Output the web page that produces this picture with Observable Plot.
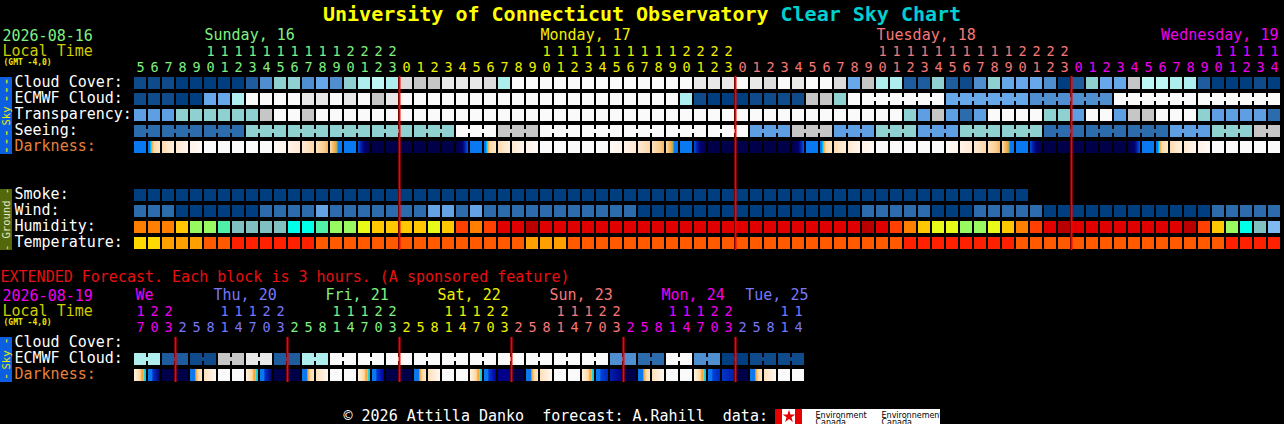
<!DOCTYPE html>
<html>
<head>
<meta charset="utf-8">
<script src="https://cdn.jsdelivr.net/npm/d3@7"></script>
<script src="https://cdn.jsdelivr.net/npm/@observablehq/plot@0.6"></script>
<style>
html,body{margin:0;padding:0;background:#000;overflow:hidden;width:1284px;height:424px}
svg{display:block}
</style>
</head>
<body>
<div id="chart"></div>
<script>
// ====================== DATA ======================
const mainDayLabels = ["Sunday, 16", "Monday, 17", "Tuesday, 18", "Wednesday, 19"];
const mainDayHours = [d3.range(5, 24), d3.range(0, 24), d3.range(0, 24), d3.range(0, 15)];

const extDayLabels = ["We", "Thu, 20", "Fri, 21", "Sat, 22", "Sun, 23", "Mon, 24", "Tue, 25"];
const extDayHours = [
  [17, 20, 23],
  [2, 5, 8, 11, 14, 17, 20, 23],
  [2, 5, 8, 11, 14, 17, 20, 23],
  [2, 5, 8, 11, 14, 17, 20, 23],
  [2, 5, 8, 11, 14, 17, 20, 23],
  [2, 5, 8, 11, 14, 17, 20, 23],
  [2, 5, 8, 11, 14]
];

// one character per hourly block (codes -> colours in the palettes below)
const cloudCover = ["BBBAAAAACE","GGEFEGHLHM","IIJJJMHKKK","KKKKKKKKKK","JJJKJMKJKK",
                    "MFIHHCCGCB","EGFFFEACGF","FILLHHCAAA","BA"].join("");
const ecmwfCloud = ["BBBAAFFHKK","KKJJKJKIJK","KKKKKKKKKK","KKKKKKKKKH","BAAABBBBII",
                    "GKKKKKKKFF","FFFFEEEEEE","KKKKKKKKKK","KK"].join("");
const ecmwfMergedBlocks = [[52, 57], [58, 63], [64, 69], [70, 75], [76, 81]];
const transparency = ["2223333334","5545555555","5555555555","5555555555","5555555555",
                      "5555532421","2555533255","2445553222","21"].join("");
// seeing is given in 3-hour blocks
const seeingBlocks = "1113333354555552423233111234";
const darkness = ["br123ddddd4567sbknn",
                  "nnnnwbr123ddddd4567sbknn",
                  "nnnnwbr123ddddd4567sbknn",
                  "nnnnwbr123ddddd"].join("");
const smoke = "0000000000000000000000000000000000000000000000000000000000000000";
const wind = ["1110000001","1112111111","1221211111","1111110000","0000000000",
              "0011111000","1111100000","0000000111","11"].join("");
const humidity = ["OOOAggmbbb","bccmggyAAA","AyARORrrDr","rrrrrrrrrr","rrrrrrrrrr",
                  "rrDrROAyyg","gyAORrDrrr","rrrrrDRAgc","ba"].join("");
const temperature = ["YYoooppqqq","qqqppppppp","ppppppppoo","oppppppppp","pppppppppp",
                     "pppppqqqqq","qqqppppppp","ppppppppqq","qq"].join("");

// extended forecast (3-hour blocks)
const extEcmwfPairs = "HCBIJCHKKKKKKKKKKEDKEABB";
const extDarkness = ["PEnnRMdd","PEnnRMdd","PFnnRMdd","PFDnRMdd","PGHnRMdd","PGInRMdd"].join("");

const mainMidnights = [19, 43, 67];
const extMidnights = [3, 11, 19, 27, 35, 43];

// ====================== STYLES ======================
const PAL_CLOUD = {A:"#003f7f",B:"#0f4b8b",C:"#1f5c9e",D:"#2c6cac",E:"#4f8fcf",F:"#66a8ea",
  G:"#8fd1d1",H:"#aeeeee",L:"#bef6f6",I:"#c6c6c6",M:"#dcdcdc",J:"#e8e8e8",K:"#fafafa"};
const PAL_SKY6 = {"0":"#003f7f","1":"#2c6cac","2":"#5e9ee2","3":"#8fd1d1","4":"#c6c6c6","5":"#fafafa"};
const PAL_SMOKE = {"0":"#003f7f"};
const PAL_WIND = {"0":"#003f7f","1":"#2c6cac","2":"#63a3e3"};
const PAL_HUMID = {a:"#80b8f0",b:"#80c0c0",c:"#00ffe8",m:"#50f0a8",g:"#98fa60",y:"#e8fa18",
  A:"#ffc800",O:"#ff8000",R:"#ff4000",r:"#e00000",D:"#b80000"};
const PAL_TEMP = {Y:"#ffd800",o:"#ffa000",p:"#ff5a00",q:"#ff2000"};
const DARK_SOLID = {n:"#00004a", b:"#0a78f0", d:"#fafafa", D:"#000088"};
const DARK_GRAD = {
  w:[[0,"#000048"],[0.55,"#000070"],[0.85,"#0034c8"],[1,"#0060e8"]],
  r:[[0,"#0a78f0"],[0.15,"#0a78f0"],[0.22,"#00c8ff"],[0.3,"#f0a030"],[0.5,"#fcd8a4"],[1,"#fde8cc"]],
  "1":[[0,"#fcdcb0"],[1,"#fff0e0"]],
  "2":[[0,"#fee8d0"],[1,"#fff6ee"]],
  "3":[[0,"#fff2e6"],[1,"#fffaf6"]],
  "4":[[0,"#fffaf6"],[1,"#fff4ea"]],
  "5":[[0,"#fff4ea"],[1,"#fee8d2"]],
  "6":[[0,"#fee8d2"],[1,"#fcd8ac"]],
  "7":[[0,"#fde0bc"],[0.7,"#fbcc8c"],[1,"#f6b45c"]],
  s:[[0,"#fbdcb0"],[0.3,"#f6b860"],[0.52,"#f0a020"],[0.6,"#00c8ff"],[0.7,"#0a78f0"],[1,"#0a78f0"]],
  k:[[0,"#0050e0"],[0.15,"#0030c0"],[0.5,"#000078"],[1,"#00004c"]],
  P:[[0,"#fff2e2"],[0.5,"#fcd8a4"],[0.72,"#f0a030"],[0.84,"#f8c868"],[0.88,"#00d8f0"],[1,"#00c0f0"]],
  E:[[0,"#0a78f0"],[0.3,"#0a78f0"],[0.42,"#0030c8"],[1,"#000060"]],
  F:[[0,"#0a78f0"],[0.3,"#0a78f0"],[0.42,"#0034d0"],[1,"#0000a0"]],
  G:[[0,"#0a78f0"],[0.3,"#0a78f0"],[0.42,"#0040d8"],[1,"#0028b8"]],
  H:[[0,"#0020b0"],[1,"#000080"]],
  I:[[0,"#0034c8"],[1,"#0020a8"]],
  R:[[0,"#0a78f0"],[0.38,"#0a78f0"],[0.48,"#f0a030"],[0.7,"#fcd8a4"],[1,"#fde8cc"]],
  M:[[0,"#fde0bc"],[1,"#fff8f0"]]
};
const darkFill = ch => DARK_SOLID[ch] || `url(#dk-${ch})`;

const mainDayColors = ["#80f080", "#f0f000", "#f87878", "#f000f0"];
const extDayColors = ["#f000f0", "#7878f8", "#80f080", "#f0f000", "#f87878", "#f000f0", "#7878f8"];

// ====================== LAYOUT ======================
const ROW = {cloud:77, ecmwf:93, transp:109, seeing:125, dark:141,
             smoke:189, wind:205, humid:221, temp:237,
             xcloud:337, xecmwf:353, xdark:369};
const CELL_H = 12;
const FONT = 15, DIGIT_FONT = 13.5, DIGIT_STEP = 15.7;
const HEAD = {day: 39.8, tens: 55.8, units: 71.5, xday: 299.8, xtens: 315.8, xunits: 331.5};
const mainDayLabelPos = [{col:5, anchor:"start", dx:-6}, {col:29, anchor:"start", dx:-6},
                         {col:53, anchor:"start", dx:-6}, {col:81, anchor:"end", dx:4}];
const extDayLabelPos = [{col:0, anchor:"start", dx:-5}, {col:6, anchor:"start", dx:-11},
  {col:14, anchor:"start", dx:-11}, {col:22, anchor:"start", dx:-11}, {col:30, anchor:"start", dx:-11},
  {col:38, anchor:"start", dx:-11}, {col:47, anchor:"end", dx:10}];

// ====================== BUILD TABLES ======================
const mainCols = mainDayHours.flatMap((hs, di) => hs.map(h => ({h, color: mainDayColors[di]})))
  .map((d, i) => ({...d, col: i}));
const extCols = extDayHours.flatMap((hs, di) => hs.map(h => ({h, color: extDayColors[di]})))
  .map((d, i) => ({...d, col: i}));

const cells = [];
const connectors = [];
function addRow(str, pal, top) {
  [...str].forEach((ch, i) => cells.push({col: i, y1: top, y2: top + CELL_H, fill: pal(ch)}));
}
function addConnectors(blocks, str, pal, top) {
  for (const [a, b] of blocks) for (let c = a; c < b; c++)
    connectors.push({col: c, y1: top + 4, y2: top + 8, fill: pal(str[c])});
}
addRow(cloudCover, ch => PAL_CLOUD[ch], ROW.cloud);
addRow(ecmwfCloud, ch => PAL_CLOUD[ch], ROW.ecmwf);
addConnectors(ecmwfMergedBlocks, ecmwfCloud, ch => PAL_CLOUD[ch], ROW.ecmwf);
addRow(transparency, ch => PAL_SKY6[ch], ROW.transp);
// seeing: expand 3-hour blocks to hourly columns (block k covers columns 3k-1 .. 3k+1)
const seeingCols = [];
const seeingBlockRanges = [];
[...seeingBlocks].forEach((ch, k) => {
  const a = Math.max(0, 3 * k - 1), b = Math.min(81, 3 * k + 1);
  for (let c = a; c <= b; c++) seeingCols[c] = ch;
  seeingBlockRanges.push([a, b]);
});
addRow(seeingCols.join(""), ch => PAL_SKY6[ch], ROW.seeing);
addConnectors(seeingBlockRanges, seeingCols.join(""), ch => PAL_SKY6[ch], ROW.seeing);
addRow(darkness, darkFill, ROW.dark);
addRow(smoke, ch => PAL_SMOKE[ch], ROW.smoke);
addRow(wind, ch => PAL_WIND[ch], ROW.wind);
addRow(humidity, ch => PAL_HUMID[ch], ROW.humid);
addRow(temperature, ch => PAL_TEMP[ch], ROW.temp);
// extended
const extEcmwf = [...extEcmwfPairs].flatMap(ch => [ch, ch]).join("");
addRow(extEcmwf, ch => PAL_CLOUD[ch], ROW.xecmwf);
addConnectors(d3.range(extEcmwfPairs.length).map(p => [2 * p, 2 * p + 1]), extEcmwf, ch => PAL_CLOUD[ch], ROW.xecmwf);
addRow(extDarkness, darkFill, ROW.xdark);

// ====================== MARKS ======================
const NS = "http://www.w3.org/2000/svg";
function gradientDefs() {
  const defs = document.createElementNS(NS, "defs");
  for (const [k, stops] of Object.entries(DARK_GRAD)) {
    const g = document.createElementNS(NS, "linearGradient");
    g.setAttribute("id", "dk-" + k);
    g.setAttribute("x1", "0"); g.setAttribute("x2", "1");
    g.setAttribute("y1", "0"); g.setAttribute("y2", "0");
    for (const [o, c] of stops) {
      const s = document.createElementNS(NS, "stop");
      s.setAttribute("offset", o); s.setAttribute("stop-color", c);
      g.appendChild(s);
    }
    defs.appendChild(g);
  }
  return defs;
}

const textBase = {lineAnchor: "bottom", fontSize: FONT};
const digitBase = {lineAnchor: "bottom", fontSize: DIGIT_FONT, x: "col", fill: "color"};
const freeText = (items, dx, extra = {}) => Plot.text(items, {
  ...textBase, frameAnchor: "left", textAnchor: "start", dx,
  y: "y", text: "text", fill: "fill", ...extra
});

const rowLabels = [
  {text:"Cloud Cover:", y:ROW.cloud + 9.7, fill:"#ffffff"},
  {text:"ECMWF Cloud:", y:ROW.ecmwf + 9.7, fill:"#ffffff"},
  {text:"Transparency:", y:ROW.transp + 9.7, fill:"#ffffff"},
  {text:"Seeing:", y:ROW.seeing + 9.7, fill:"#ffffff"},
  {text:"Darkness:", y:ROW.dark + 9.7, fill:"#e8803c"},
  {text:"Smoke:", y:ROW.smoke + 9.7, fill:"#ffffff"},
  {text:"Wind:", y:ROW.wind + 9.7, fill:"#ffffff"},
  {text:"Humidity:", y:ROW.humid + 9.7, fill:"#ffffff"},
  {text:"Temperature:", y:ROW.temp + 9.7, fill:"#ffffff"},
  {text:"Cloud Cover:", y:ROW.xcloud + 9.7, fill:"#ffffff"},
  {text:"ECMWF Cloud:", y:ROW.xecmwf + 9.7, fill:"#ffffff"},
  {text:"Darkness:", y:ROW.xdark + 9.7, fill:"#e8803c"}
];
const leftHeads = [
  {text:"2026-08-16", y:40, fill:mainDayColors[0]},
  {text:"Local Time", y:55.7, fill:"#cccc00"},
  {text:"2026-08-19", y:300, fill:extDayColors[0]},
  {text:"Local Time", y:315.7, fill:"#cccc00"}
];
const gmtHeads = [{text:"(GMT -4,0)", y:64.5, fill:"#e8e800"}, {text:"(GMT -4,0)", y:324.3, fill:"#e8e800"}];

const marks = [
  gradientDefs,
  Plot.barY(cells, {x: "col", y1: "y1", y2: "y2", fill: "fill"}),
  Plot.barY(connectors, {x: "col", y1: "y1", y2: "y2", fill: "fill", insetRight: -2}),
  Plot.ruleX(mainMidnights, {x: d => d, y1: 76, y2: 250, stroke: "#ff0000", strokeWidth: 2, dx: -7}),
  Plot.ruleX(extMidnights, {x: d => d, y1: 337, y2: 382, stroke: "#ff0000", strokeWidth: 2, dx: -7}),
  // title
  Plot.text(["University of Connecticut Observatory"], {text: d => d, y: 20, frameAnchor: "left", textAnchor: "start",
    dx: 322.5, fill: "#ffff00", fontWeight: "bold", fontSize: 20, lineAnchor: "bottom"}),
  Plot.text(["Clear Sky Chart"], {text: d => d, y: 20, frameAnchor: "left", textAnchor: "start",
    dx: 322.5 + 38 * 0.602 * 20, fill: "#00d0d0", fontWeight: "bold", fontSize: 20, lineAnchor: "bottom"}),
  // left headers & row labels
  freeText(leftHeads, 2),
  freeText(gmtHeads, 3, {fontSize: 8, fontWeight: "bold"}),
  freeText(rowLabels, 14),
  freeText([{text:"EXTENDED Forecast. Each block is 3 hours. (A sponsored feature)", y:281, fill:"#e81010"}], 0),
  // hour ticks: tens digit row and units digit row
  Plot.text(mainCols.filter(d => d.h >= 10), {...digitBase, y: HEAD.tens, text: d => String(Math.floor(d.h / 10))}),
  Plot.text(mainCols, {...digitBase, y: HEAD.units, text: d => String(d.h % 10)}),
  Plot.text(extCols.filter(d => d.h >= 10), {...digitBase, y: HEAD.xtens, text: d => String(Math.floor(d.h / 10))}),
  Plot.text(extCols, {...digitBase, y: HEAD.xunits, text: d => String(d.h % 10)}),
  // day labels
  ...mainDayLabels.map((lab, i) => Plot.text([lab], {...textBase, x: () => mainDayLabelPos[i].col, y: HEAD.day, text: d => d,
    textAnchor: mainDayLabelPos[i].anchor, dx: mainDayLabelPos[i].dx, fill: mainDayColors[i]})),
  ...extDayLabels.map((lab, i) => Plot.text([lab], {...textBase, x: () => extDayLabelPos[i].col, y: HEAD.xday, text: d => d,
    textAnchor: extDayLabelPos[i].anchor, dx: extDayLabelPos[i].dx, fill: extDayColors[i]})),
  // side bars
  Plot.rect([0], {y1: 77, y2: 154, insetRight: 1284 - 12, fill: "#0b5fe0"}),
  Plot.rect([0], {y1: 189, y2: 250, insetRight: 1284 - 12, fill: "#52680a"}),
  Plot.rect([0], {y1: 337, y2: 382, insetRight: 1284 - 12, fill: "#0b5fe0"}),
  Plot.text([{t:"---", y:89.5}, {t:"---", y:141}], {text: "t", y: "y", frameAnchor: "left", dx: 6, rotate: -90,
    fill: "#f0f000", fontSize: 14, textAnchor: "middle", lineAnchor: "middle"}),
  Plot.text([{t:"Sky", y:115.5}, {t:"Sky", y:359.5}], {text: "t", y: "y", frameAnchor: "left", dx: 6, rotate: -90,
    fill: "#f0f000", fontSize: 10.5, textAnchor: "middle", lineAnchor: "middle"}),
  Plot.text([{t:"-", y:340.5}, {t:"-", y:376}], {text: "t", y: "y", frameAnchor: "left", dx: 6, rotate: -90,
    fill: "#f0f000", fontSize: 12, textAnchor: "middle", lineAnchor: "middle"}),
  Plot.text([{t:"- Ground -", y:219}], {text: "t", y: "y", frameAnchor: "left", dx: 6, rotate: -90,
    fill: "#e6e6c8", fontSize: 10.5, textAnchor: "middle", lineAnchor: "middle"}),
  // footer
  freeText([{text:"\u00a9 2026 Attilla Danko\u00a0\u00a0forecast: A.Rahill\u00a0\u00a0data:", y:420, fill:"#ffffff"}], 343),
  Plot.rect([0], {y1: 409, y2: 424, insetLeft: 775, insetRight: 1284 - 802, fill: "#e60000"}),
  Plot.rect([0], {y1: 409, y2: 424, insetLeft: 782, insetRight: 1284 - 795, fill: "#ffffff"}),
  Plot.rect([0], {y1: 409, y2: 424, insetLeft: 802, insetRight: 1284 - 940, fill: "#ffffff"}),
  Plot.dot([0], {y: 416, frameAnchor: "left", dx: 788.5, symbol: "star", r: 4, fill: "#e60000"}),
  Plot.text([{text:"Environment", y:417}, {text:"Canada", y:424}], {text:"text", y:"y", frameAnchor:"left", dx:815,
    textAnchor:"start", lineAnchor:"bottom", fontSize:8, fill:"#000000", fontFamily:"DejaVu Sans"}),
  Plot.text([{text:"Environnement", y:417}, {text:"Canada", y:424}], {text:"text", y:"y", frameAnchor:"left", dx:881,
    textAnchor:"start", lineAnchor:"bottom", fontSize:8, fill:"#000000", fontFamily:"DejaVu Sans"})
];

const chart = Plot.plot({
  width: 1284, height: 424, margin: 0,
  style: {background: "#000000", color: "#ffffff", fontFamily: "'DejaVu Sans Mono', monospace", fontSize: "15px", overflow: "visible"},
  x: {type: "band", domain: d3.range(82), range: [133, 1281], paddingInner: 1 / 7, paddingOuter: 1 / 14, round: false, axis: null},
  y: {type: "linear", domain: [0, 424], range: [0, 424], axis: null},
  color: {type: "identity"},
  marks
});
document.getElementById("chart").appendChild(chart);
</script>
</body>
</html>
